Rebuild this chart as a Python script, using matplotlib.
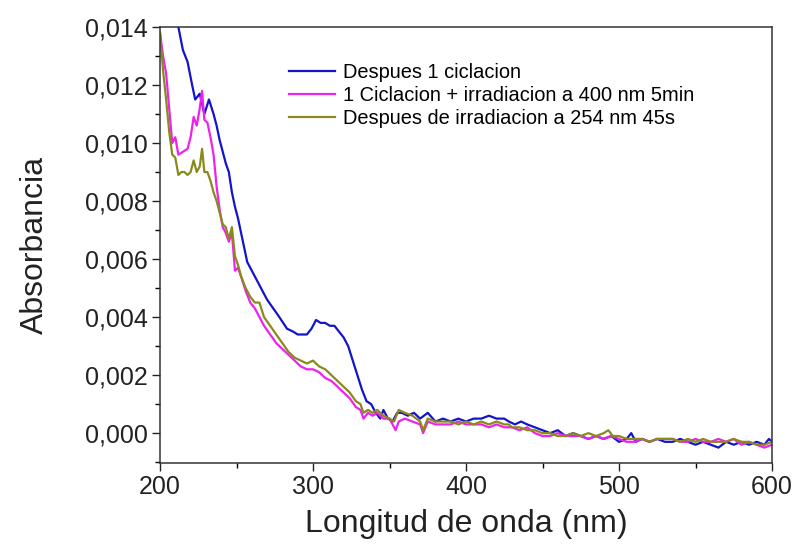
import matplotlib
matplotlib.use("Agg")
import matplotlib.pyplot as plt
from matplotlib.ticker import MultipleLocator, FuncFormatter

plt.rcParams['font.family'] = ['Liberation Sans', 'DejaVu Sans']

labels = ["Despues 1 ciclacion",
          "1 Ciclacion + irradiacion a 400 nm 5min",
          "Despues de irradiacion a 254 nm 45s"]
colors = ["#1414c8", "#ee22ee", "#8a8a1c"]

wl_blue = [200, 203, 206, 209, 212, 215, 218, 221, 223, 226, 229, 232, 235, 237, 239, 241, 243, 245, 247, 249,
           251, 253, 255, 257, 260, 263, 266, 270, 274, 278, 283, 287, 290, 293, 296, 299, 302, 305, 308, 311,
           314, 317, 320, 323, 326, 329, 332, 335, 338, 341, 344, 346, 349, 352, 355, 358, 362, 366, 370, 375,
           380, 385, 390, 395, 400, 405, 410, 415, 420, 425, 428, 432, 436, 440, 445, 450, 455, 460, 465, 470,
           475, 480, 485, 490, 495, 500, 505, 508, 511, 515, 520, 525, 530, 535, 540, 545, 550, 555, 560, 565,
           570, 575, 580, 585, 590, 595, 598, 600]
abs_blue = [0.0185, 0.0170, 0.0158, 0.0148, 0.0140, 0.0132, 0.0128, 0.0120, 0.0115, 0.0117, 0.0110, 0.0115,
            0.0110, 0.0106, 0.0101, 0.0097, 0.0093, 0.0090, 0.0083, 0.0078, 0.0074, 0.0069, 0.0064, 0.0059,
            0.0056, 0.0053, 0.0050, 0.0046, 0.0043, 0.0040, 0.0036, 0.0035, 0.0034, 0.0034, 0.0034, 0.0036,
            0.0039, 0.0038, 0.0038, 0.0037, 0.0037, 0.0035, 0.0033, 0.0030, 0.0025, 0.0020, 0.0015, 0.0011,
            0.0010, 0.0007, 0.0005, 0.0008, 0.0005, 0.0004, 0.0007, 0.0007, 0.0006, 0.0007, 0.0005, 0.0007,
            0.0004, 0.0005, 0.0004, 0.0005, 0.0004, 0.0005, 0.0005, 0.0006, 0.0005, 0.0005, 0.0004, 0.0003,
            0.0004, 0.0003, 0.0002, 0.0001, 0.0000, 0.0001, -0.0001, 0.0000, -0.0001, -0.0002, -0.0001, -0.0002,
            -0.0001, -0.0003, -0.0002, 0.0000, -0.0003, -0.0002, -0.0003, -0.0002, -0.0003, -0.0003, -0.0002,
            -0.0003, -0.0004, -0.0003, -0.0004, -0.0005, -0.0003, -0.0004, -0.0003, -0.0004, -0.0003, -0.0004,
            -0.0002, -0.0003]

wl_mag = [200, 202, 204, 206, 208, 210, 212, 215, 218, 220, 222, 224, 226, 227.5, 229, 231, 233, 235, 237, 239,
          241, 243, 245, 247, 249, 251, 253, 256, 259, 262, 265, 268, 272, 276, 280, 284, 288, 292, 296, 300,
          304, 308, 312, 316, 320, 324, 328, 331, 333, 336, 339, 342, 346, 350, 354, 356, 360, 365, 370, 372,
          375, 380, 385, 390, 395, 400, 405, 410, 415, 420, 425, 430, 435, 440, 445, 450, 455, 460, 465, 470,
          475, 480, 485, 490, 495, 500, 505, 510, 515, 520, 525, 530, 535, 540, 545, 550, 555, 560, 565, 570,
          575, 580, 585, 590, 595, 600]
abs_mag = [0.0138, 0.0130, 0.0124, 0.0112, 0.0100, 0.0102, 0.0096, 0.0097, 0.0098, 0.0102, 0.0109, 0.0106,
           0.0112, 0.0118, 0.0108, 0.0107, 0.0102, 0.0096, 0.0085, 0.0077, 0.0071, 0.0069, 0.0066, 0.0069,
           0.0056, 0.0057, 0.0054, 0.0049, 0.0045, 0.0043, 0.0040, 0.0037, 0.0034, 0.0031, 0.0029, 0.0027,
           0.0025, 0.0023, 0.0022, 0.0022, 0.0021, 0.0019, 0.0018, 0.0016, 0.0014, 0.0012, 0.0009, 0.0008,
           0.0005, 0.0007, 0.0006, 0.0007, 0.0005, 0.0005, 0.0001, 0.0004, 0.0005, 0.0004, 0.0003, 0.0000,
           0.0004, 0.0003, 0.0003, 0.0003, 0.0004, 0.0003, 0.0003, 0.0003, 0.0002, 0.0003, 0.0002, 0.0002,
           0.0001, 0.0002, 0.0000, -0.0001, -0.0001, 0.0000, -0.0001, -0.0001, -0.0001, -0.0002, -0.0001,
           -0.0002, -0.0001, -0.0002, -0.0003, -0.0003, -0.0002, -0.0003, -0.0002, -0.0002, -0.0002, -0.0003,
           -0.0003, -0.0002, -0.0003, -0.0003, -0.0002, -0.0003, -0.0002, -0.0004, -0.0003, -0.0004, -0.0005,
           -0.0004]

wl_olive = [200, 202, 204, 206, 208, 210, 212, 214, 216, 218, 220, 222, 224, 226, 227.5, 229, 231, 233, 235, 237,
            239, 241, 243, 245, 247, 249, 251, 253, 256, 259, 262, 265, 268, 272, 276, 280, 284, 288, 292, 296,
            300, 304, 308, 312, 316, 320, 324, 328, 331, 333, 336, 339, 342, 346, 350, 353, 356, 360, 365, 370,
            372, 375, 380, 385, 390, 395, 400, 405, 410, 415, 420, 425, 428, 430, 435, 440, 445, 450, 455, 460,
            465, 470, 475, 480, 485, 490, 493, 496, 500, 505, 510, 515, 520, 525, 530, 535, 540, 545, 550, 555,
            560, 565, 570, 575, 580, 585, 590, 595, 600]
abs_olive = [0.0138, 0.0125, 0.0115, 0.0104, 0.0096, 0.0095, 0.0089, 0.0090, 0.0090, 0.0089, 0.0090, 0.0094,
             0.0090, 0.0092, 0.0098, 0.0090, 0.0090, 0.0087, 0.0083, 0.0080, 0.0076, 0.0072, 0.0071, 0.0067,
             0.0071, 0.0061, 0.0058, 0.0054, 0.0050, 0.0047, 0.0045, 0.0045, 0.0040, 0.0037, 0.0034, 0.0031,
             0.0028, 0.0026, 0.0025, 0.0024, 0.0025, 0.0023, 0.0022, 0.0020, 0.0018, 0.0016, 0.0014, 0.0011,
             0.0010, 0.0007, 0.0008, 0.0007, 0.0008, 0.0006, 0.0005, 0.0004, 0.0008, 0.0007, 0.0006, 0.0004,
             0.0001, 0.0005, 0.0004, 0.0004, 0.0004, 0.0003, 0.0004, 0.0003, 0.0004, 0.0003, 0.0004, 0.0003,
             0.0003, 0.0002, 0.0002, 0.0001, 0.0001, 0.0000, 0.0000, -0.0001, -0.0001, 0.0000, -0.0001, 0.0000,
             -0.0001, 0.0000, 0.0001, -0.0001, -0.0001, -0.0002, -0.0002, -0.0002, -0.0003, -0.0002, -0.0002,
             -0.0002, -0.0003, -0.0002, -0.0003, -0.0002, -0.0003, -0.0003, -0.0003, -0.0002, -0.0003, -0.0003,
             -0.0004, -0.0004, -0.0003]

fig = plt.figure(figsize=(7.94, 5.49), dpi=100)
ax = fig.add_axes([160/794, 1 - 463/549, (772 - 160)/794, (463 - 27)/549])

series = [(wl_blue, abs_blue), (wl_mag, abs_mag), (wl_olive, abs_olive)]
for (x, y), c, lab in zip(series, colors, labels):
    ax.plot(x, y, color=c, lw=1.6, label=lab)

ax.set_xlim(200, 600)
ax.set_ylim(-0.00103, 0.014)
ax.xaxis.set_major_locator(MultipleLocator(100))
ax.xaxis.set_minor_locator(MultipleLocator(50))
ax.yaxis.set_major_locator(MultipleLocator(0.002))
ax.yaxis.set_minor_locator(MultipleLocator(0.001))
ax.yaxis.set_major_formatter(FuncFormatter(lambda v, p: f"{v:.3f}".replace(".", ",").replace("-0,000", "0,000")))

ax.tick_params(which='major', direction='out', length=6, width=1.0, labelsize=18, colors='#222222', pad=3)
ax.tick_params(which='minor', direction='out', length=3.5, width=1.0)
ax.tick_params(top=False, right=False, which='both')
for s in ax.spines.values():
    s.set_linewidth(1.1)
    s.set_color('#333333')

ax.set_xlabel("Longitud de onda (nm)", fontsize=23, color='#222222', labelpad=7)
ax.set_ylabel("Absorbancia", fontsize=23, color='#222222', labelpad=25)

leg = ax.legend(loc='upper left', bbox_to_anchor=((289 - 160)/612, 1 - (63 - 27)/436),
                frameon=False, fontsize=14.4, handlelength=2.3, handletextpad=0.4,
                labelspacing=0.2, borderaxespad=0, borderpad=0)

fig.savefig("out.png", dpi=100)
